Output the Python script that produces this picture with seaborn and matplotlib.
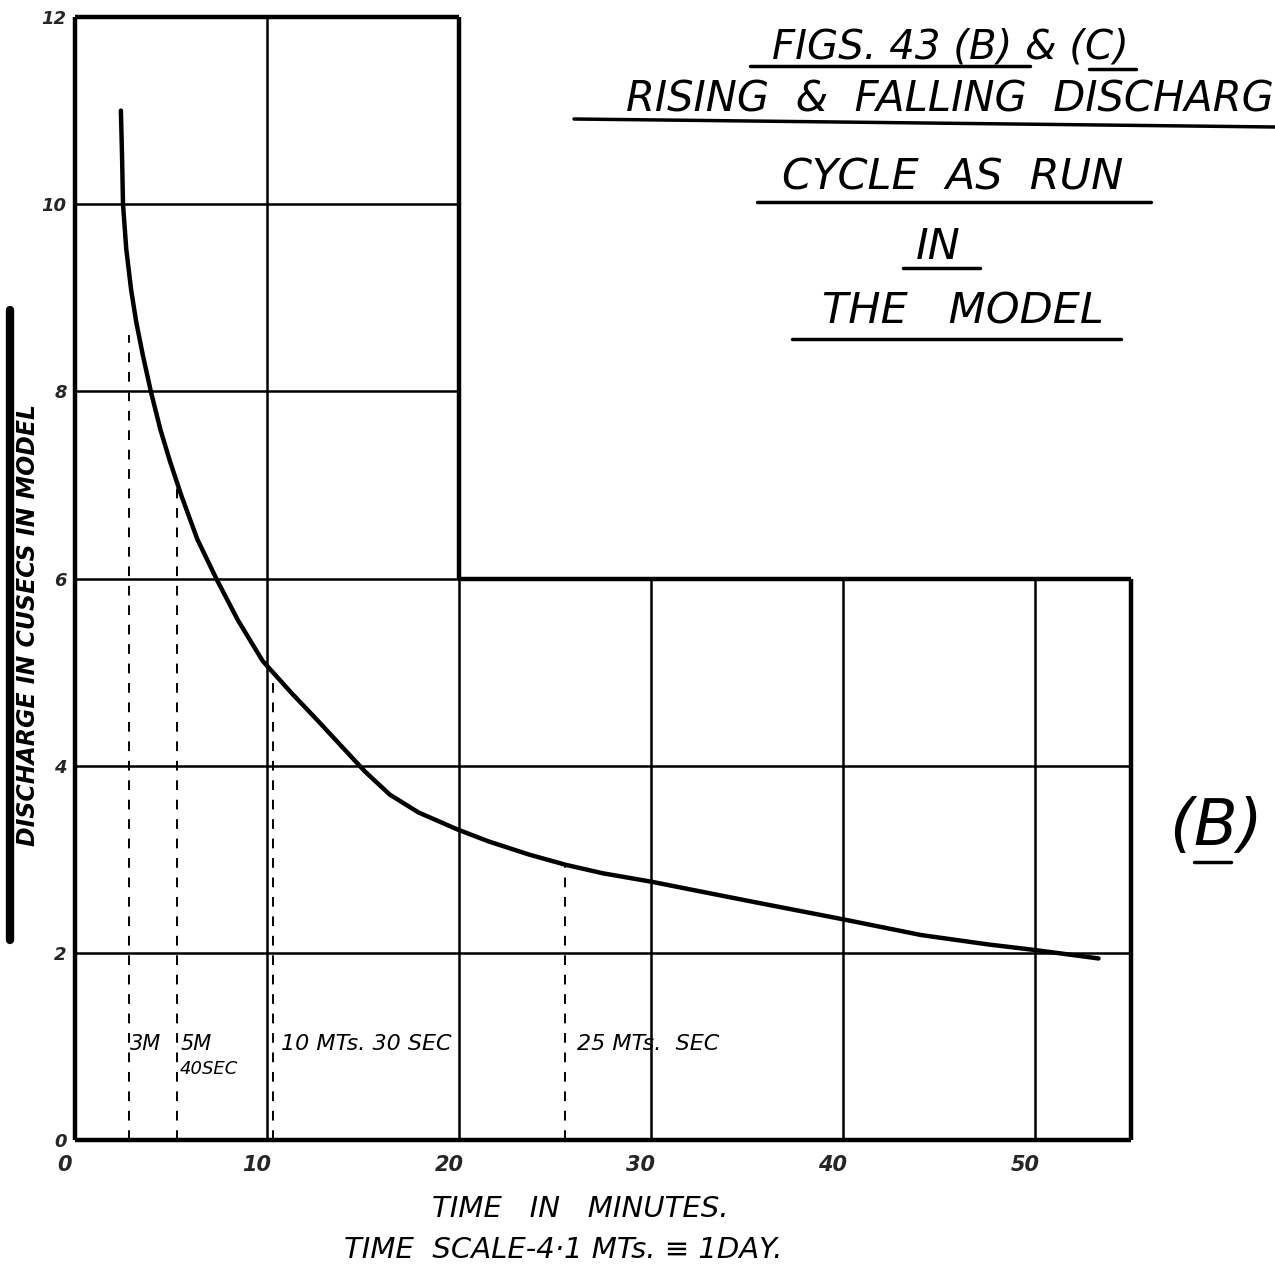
import matplotlib
import matplotlib.pyplot as plt
import matplotlib.transforms as mtransforms
from matplotlib.lines import Line2D
import seaborn as sns

matplotlib.use('Agg')

# curve (time in minutes, discharge in cusecs)
time_min = [2.39, 2.45, 2.50, 2.67, 2.92, 3.19, 3.54, 3.96, 4.45, 4.95, 5.55,
            6.37, 7.38, 8.47, 9.77, 11.26, 12.65, 13.87, 15.09, 16.40, 17.89,
            19.90, 21.55, 23.65, 25.57, 27.49, 30.02, 32.72, 35.69, 39.96,
            44.07, 47.55, 50.0, 53.31]
discharge = [11.0, 10.52, 10.0, 9.52, 9.09, 8.74, 8.38, 7.99, 7.59, 7.25, 6.88,
             6.42, 5.99, 5.56, 5.12, 4.78, 4.48, 4.21, 3.94, 3.69, 3.50,
             3.32, 3.19, 3.05, 2.94, 2.85, 2.76, 2.65, 2.53, 2.36,
             2.19, 2.09, 2.03, 1.94]

# dashed time markers
marker_x = [2.8, 5.3, 10.3, 25.5]
marker_top = [8.6, 7.0, 4.9, 2.94]

x_ticks = [0, 10, 20, 30, 40, 50]
y_ticks = [0, 2, 4, 6, 8, 10, 12]

W, H = 1275, 1267

sns.set_theme(style='white')
plt.rcParams['font.family'] = ['DejaVu Sans']

fig = plt.figure(figsize=(W / 100, H / 100), dpi=100)
ax = fig.add_axes([75 / W, 1 - 1140 / H, (1131 - 75) / W, (1140 - 17) / H])
ax.set_xlim(0, 55)
ax.set_ylim(0, 12)
for s in ax.spines.values():
    s.set_visible(False)

thin, thick = 1.8, 3.2
k = dict(color='black', clip_on=False)

# frame and grid (the upper block only reaches 20 min)
ax.hlines([2, 4], 0, 55, lw=thin, **k)
ax.hlines(6, 0, 20, lw=thin, **k)
ax.hlines(6, 20, 55, lw=thick, **k)
ax.hlines([8, 10], 0, 20, lw=thin, **k)
ax.hlines(12, 0, 20, lw=thick, **k)
ax.hlines(0, 0, 55, lw=thick, **k)
ax.vlines(0, 0, 12, lw=thick, **k)
ax.vlines(10, 0, 12, lw=thin, **k)
ax.vlines(20, 0, 6, lw=thin, **k)
ax.vlines(20, 6, 12, lw=thick, **k)
ax.vlines([30, 40, 50], 0, 6, lw=thin, **k)
ax.vlines(55, 0, 6, lw=thick, **k)

for mx, mt in zip(marker_x, marker_top):
    ax.plot([mx, mx], [0, mt], color='black', lw=1.4, ls=(0, (5, 5)))

sns.lineplot(x=time_min, y=discharge, color='black', lw=3.2, ax=ax)

ax.set_xticks(x_ticks)
ax.set_yticks(y_ticks)
ax.set_xticklabels([str(v) for v in x_ticks], fontsize=15, style='italic', fontweight='bold')
ax.set_yticklabels([str(v) for v in y_ticks], fontsize=13, style='italic', fontweight='bold')
ax.tick_params(axis='x', length=0, pad=11)
ax.tick_params(axis='y', length=0, pad=6)
shift = mtransforms.ScaledTranslation(-0.1, 0, fig.dpi_scale_trans)
for lab in ax.get_xticklabels():
    lab.set_transform(lab.get_transform() + shift)

txt = dict(style='italic', color='black')


def ftext(px, py, s, size, ha='center', **kw):
    fig.text(px / W, 1 - py / H, s, fontsize=size, ha=ha, va='center', **txt, **kw)


def uline(x0, x1, y0, y1=None, lw=2.5):
    y1 = y0 if y1 is None else y1
    fig.add_artist(Line2D([x0 / W, x1 / W], [1 - y0 / H, 1 - y1 / H], color='black', lw=lw))


# title block
ftext(950, 47, 'FIGS. 43 (B) & (C)', 29)
uline(750, 1030, 66)
uline(1089, 1136, 69)
ftext(1274, 100, 'RISING  &  FALLING  DISCHARG', 30, ha='right')
uline(574, 1276, 119, 127)
ftext(953, 178, 'CYCLE  AS  RUN', 31)
uline(757, 1151, 202)
ftext(938, 247, 'IN', 31)
uline(903, 980, 268)
ftext(963, 312, 'THE   MODEL', 31)
uline(792, 1121, 339)

ftext(1216, 827, '(B)', 46)
uline(1194, 1231, 862)

# marker notes
ftext(130, 1044, '3M', 15, ha='left')
ftext(181, 1044, '5M', 15, ha='left')
ftext(180, 1069, '40SEC', 13, ha='left')
ftext(281, 1044, '10 MTs. 30 SEC', 16, ha='left')
ftext(577, 1044, '25 MTs.  SEC', 16, ha='left')

# axis titles
ftext(580, 1209, 'TIME   IN   MINUTES.', 21)
ftext(563, 1250, 'TIME  SCALE-4·1 MTs. ≡ 1DAY.', 21)
fig.text(28 / W, 1 - 625 / H, 'DISCHARGE IN CUSECS IN MODEL', rotation=90,
         fontsize=17, ha='center', va='center', fontweight='bold', **txt)
uline(10, 10, 310, 940, lw=6)

fig.savefig('out.png', dpi=100)
